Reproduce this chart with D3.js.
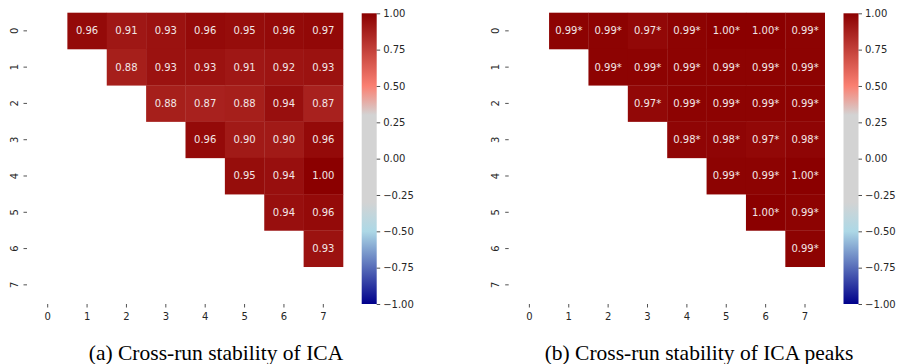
<!DOCTYPE html>
<html>
<head>
<meta charset="utf-8">
<script src="https://cdn.jsdelivr.net/npm/d3@7"></script>
<style>
  body { margin: 0; background: #fff; }
  svg text { font-family: "DejaVu Sans", sans-serif; }
</style>
</head>
<body>
<div id="chart"></div>
<script>
// run indices
const runs = [0, 1, 2, 3, 4, 5, 6, 7];

// upper triangle, row i holds columns i+1..7
const icaValues = [
  [0.96, 0.91, 0.93, 0.96, 0.95, 0.96, 0.97],
  [0.88, 0.93, 0.93, 0.91, 0.92, 0.93],
  [0.88, 0.87, 0.88, 0.94, 0.87],
  [0.96, 0.90, 0.90, 0.96],
  [0.95, 0.94, 1.00],
  [0.94, 0.96],
  [0.93]
];

const peakValues = [
  [0.99, 0.99, 0.97, 0.99, 1.00, 1.00, 0.99],
  [0.99, 0.99, 0.99, 0.99, 0.99, 0.99],
  [0.97, 0.99, 0.99, 0.99, 0.99],
  [0.98, 0.98, 0.97, 0.98],
  [0.99, 0.99, 1.00],
  [1.00, 0.99],
  [0.99]
];

const cbTicks = [1, 0.75, 0.5, 0.25, 0, -0.25, -0.5, -0.75, -1];

const captions = ["(a) Cross-run stability of ICA", "(b) Cross-run stability of ICA peaks"];

const width = 899, height = 364;

const svg = d3.select("#chart")
  .append("svg")
  .attr("width", width)
  .attr("height", height);

const color = d3.scaleLinear()
  .domain([-1, -0.5, -0.3, 0.3, 0.5, 1])
  .range(["#00008b", "#add8e6", "#d3d3d3", "#d3d3d3", "#fa8072", "#8b0000"])
  .interpolate(d3.interpolateRgb)
  .clamp(true);

function toCells(values) {
  let cells = [];
  values.forEach((row, i) => {
    row.forEach((v, k) => cells.push({ row: i, col: i + 1 + k, v: v }));
  });
  return cells;
}

function panel(values, left, cbLeft, star, caption, capX, id) {
  const top = 12.7, bottom = 303;
  const x = d3.scaleBand().domain(runs).range([left, left + 315]);
  const y = d3.scaleBand().domain(runs).range([top, bottom]);
  const g = svg.append("g");

  const cells = toCells(values);

  g.selectAll("rect.cell")
    .data(cells)
    .enter()
    .append("rect")
    .attr("class", "cell")
    .attr("x", d => x(d.col))
    .attr("y", d => y(d.row))
    .attr("width", x.bandwidth() + 0.3)
    .attr("height", y.bandwidth() + 0.3)
    .attr("fill", d => color(d.v));

  g.selectAll("text.anno")
    .data(cells)
    .enter()
    .append("text")
    .attr("class", "anno")
    .attr("x", d => x(d.col) + x.bandwidth() / 2)
    .attr("y", d => y(d.row) + y.bandwidth() / 2)
    .attr("dy", "0.35em")
    .attr("text-anchor", "middle")
    .attr("font-size", 10)
    .attr("fill", "#f2e6e6")
    .text(d => d.v.toFixed(2) + (star ? "*" : ""));

  // x axis
  const xAxis = d3.axisBottom(x).tickSize(3.5).tickPadding(5);
  const gx = g.append("g")
    .attr("transform", `translate(0,${bottom + 1})`)
    .call(xAxis);
  gx.select(".domain").remove();
  gx.selectAll("text").attr("font-size", 10).attr("fill", "#262626").attr("font-family", "DejaVu Sans");
  gx.selectAll("line").attr("stroke", "#262626").attr("stroke-width", 0.8);

  // y axis, labels rotated
  const yAxis = d3.axisLeft(y).tickSize(3.5).tickPadding(5);
  const gy = g.append("g")
    .attr("transform", `translate(${left - 1},0)`)
    .call(yAxis);
  gy.select(".domain").remove();
  gy.selectAll("line").attr("stroke", "#262626").attr("stroke-width", 0.8);
  gy.selectAll("text")
    .attr("font-size", 10)
    .attr("fill", "#262626")
    .attr("font-family", "DejaVu Sans")
    .attr("text-anchor", "middle")
    .attr("x", null)
    .attr("transform", "translate(-13,0) rotate(-90)")
    .attr("y", 0)
    .attr("dy", "0.35em");

  // colorbar
  const cbY = d3.scaleLinear().domain([-1, 1]).range([304, 13.3]);
  const grad = svg.append("defs").append("linearGradient")
    .attr("id", id)
    .attr("x1", 0).attr("y1", 1).attr("x2", 0).attr("y2", 0);
  d3.range(0, 1.0001, 0.05).forEach(t => {
    grad.append("stop")
      .attr("offset", t)
      .attr("stop-color", color(-1 + 2 * t));
  });
  g.append("rect")
    .attr("x", cbLeft)
    .attr("y", cbY(1))
    .attr("width", 15)
    .attr("height", cbY(-1) - cbY(1))
    .attr("fill", `url(#${id})`);

  const cbAxis = d3.axisRight(cbY)
    .tickValues(cbTicks)
    .tickSize(3.5)
    .tickPadding(3)
    .tickFormat(d => d3.format(".2f")(d).replace("-", "\u2212"));
  const gc = g.append("g")
    .attr("transform", `translate(${cbLeft + 15},0)`)
    .call(cbAxis);
  gc.select(".domain").remove();
  gc.selectAll("line").attr("stroke", "#262626").attr("stroke-width", 0.8);
  gc.selectAll("text").attr("font-size", 10).attr("fill", "#262626").attr("font-family", "DejaVu Sans");

  // caption
  g.append("text")
    .attr("x", capX)
    .attr("y", 360)
    .attr("text-anchor", "middle")
    .attr("font-size", 21.5)
    .attr("fill", "#000")
    .style("font-family", "'Liberation Serif', 'Times New Roman', serif")
    .text(caption);
}

panel(icaValues, 28, 361.7, false, captions[0], 216, "gradA");
panel(peakValues, 509.7, 843.5, true, captions[1], 699, "gradB");
</script>
</body>
</html>
